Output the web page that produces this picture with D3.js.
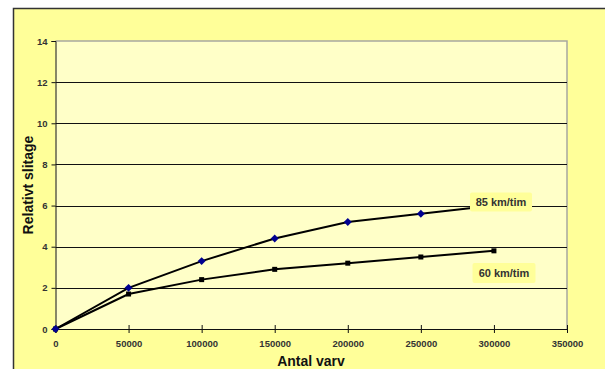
<!DOCTYPE html>
<html>
<head>
<meta charset="utf-8">
<script src="https://cdn.jsdelivr.net/npm/d3@7"></script>
<style>
  html, body { margin: 0; padding: 0; background: #ffffff; }
  svg { display: block; font-family: "Liberation Sans", Arial, sans-serif; }
</style>
</head>
<body>
<svg id="chart" width="605" height="369"></svg>
<script>
// Wear relative to number of revolutions, two speeds
const varv = [0, 50000, 100000, 150000, 200000, 250000, 300000];
const slitage85 = [0, 2.0, 3.3, 4.4, 5.2, 5.6, 6.0];
const slitage60 = [0, 1.7, 2.4, 2.9, 3.2, 3.5, 3.8];
const xTicks = [0, 50000, 100000, 150000, 200000, 250000, 300000, 350000];
const yTicks = [0, 2, 4, 6, 8, 10, 12, 14];
const seriesNames = ["85 km/tim", "60 km/tim"];

const svg = d3.select("#chart");
const W = 605, H = 369;

// outer chart frame
svg.append("rect").attr("x", 13.5).attr("y", 8.5).attr("width", W).attr("height", H)
  .attr("fill", "#FFFF99");
svg.append("path").attr("d", `M13.5,${H} V8.5 H${W}`)
  .attr("fill", "none").attr("stroke", "#333").attr("stroke-width", 1.5);

const x = d3.scaleLinear().domain([0, 350000]).range([55.5, 567]);
const y = d3.scaleLinear().domain([0, 14]).range([329, 41]);

// plot area
svg.append("rect").attr("x", x(0)).attr("y", y(14))
  .attr("width", x(350000) - x(0)).attr("height", y(0) - y(14))
  .attr("fill", "#FFFFC8");
svg.append("path").attr("d", `M${x(0)},${y(14)} H${x(350000)} V${y(0)}`)
  .attr("fill", "none").attr("stroke", "#A8A8A0").attr("stroke-width", 1.5);

// horizontal gridlines
svg.append("g").selectAll("line").data(yTicks.filter(v => v > 0 && v < 14)).join("line")
  .attr("x1", x(0)).attr("x2", x(350000))
  .attr("y1", d => Math.round(y(d)) + 0.5).attr("y2", d => Math.round(y(d)) + 0.5)
  .attr("stroke", "#111").attr("stroke-width", 1);

// axes
const yAxis = d3.axisLeft(y).tickValues(yTicks).tickSize(4).tickPadding(4);
const gy = svg.append("g").attr("transform", `translate(${x(0)},0)`).call(yAxis);
gy.select(".domain").attr("stroke", "#111");
gy.selectAll(".tick line").attr("stroke", "#111");
gy.selectAll(".tick text").attr("font-size", 9.5).attr("font-weight", "bold")
  .attr("fill", "#333").attr("font-family", "Liberation Sans, Arial, sans-serif");

const xAxis = d3.axisBottom(x).tickValues(xTicks).tickFormat(d3.format("d"))
  .tickSize(4).tickPadding(7);
const gx = svg.append("g").attr("transform", `translate(0,${y(0)})`).call(xAxis);
gx.select(".domain").attr("stroke", "#111");
gx.selectAll(".tick line").attr("stroke", "#111").attr("y1", -4);
gx.selectAll(".tick text").attr("font-size", 9.5).attr("font-weight", "bold")
  .attr("fill", "#333").attr("font-family", "Liberation Sans, Arial, sans-serif");

// axis titles
svg.append("text").attr("x", 311).attr("y", 366).attr("text-anchor", "middle")
  .attr("font-size", 14).attr("font-weight", "bold").attr("fill", "#111")
  .text("Antal varv");
svg.append("text").attr("transform", "translate(33,185) rotate(-90)")
  .attr("text-anchor", "middle").attr("font-size", 14).attr("font-weight", "bold")
  .attr("fill", "#111").text("Relativt slitage");

// series lines
const line = d3.line().x((d, i) => x(varv[i])).y(d => y(d));
[slitage60, slitage85].forEach(s => {
  svg.append("path").datum(s).attr("d", line)
    .attr("fill", "none").attr("stroke", "#000").attr("stroke-width", 2);
});

// markers: small squares for 60, navy diamonds for 85
svg.append("g").selectAll("rect").data(slitage60).join("rect")
  .attr("x", (d, i) => x(varv[i]) - 2.5).attr("y", d => y(d) - 2.5)
  .attr("width", 5).attr("height", 5).attr("fill", "#000");
const diamond = d3.symbol().type(d3.symbolDiamond2).size(40);
svg.append("g").selectAll("path").data(slitage85).join("path")
  .attr("d", diamond)
  .attr("transform", (d, i) => `translate(${x(varv[i])},${y(d)})`)
  .attr("fill", "#000090");

// series labels
const labels = [
  { name: seriesNames[0], cx: 501, cy: 202, w: 62, h: 19 },
  { name: seriesNames[1], cx: 504, cy: 273, w: 63, h: 20 }
];
labels.forEach(l => {
  svg.append("rect").attr("x", l.cx - l.w / 2).attr("y", l.cy - l.h / 2)
    .attr("width", l.w).attr("height", l.h).attr("rx", 2).attr("fill", "#FFFF99");
  svg.append("text").attr("x", l.cx).attr("y", l.cy + 4).attr("text-anchor", "middle")
    .attr("font-size", 11).attr("font-weight", "bold").attr("fill", "#333").text(l.name);
});
</script>
</body>
</html>
